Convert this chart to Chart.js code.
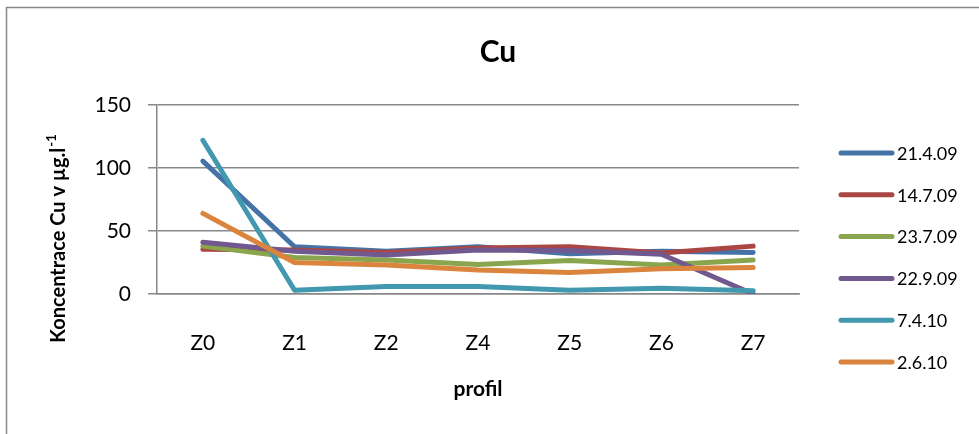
<!DOCTYPE html>
<html>
<head>
<meta charset="utf-8">
<script src="https://cdn.jsdelivr.net/npm/chart.js@4"></script>
<style>
  body { margin: 0; background: #fff; }
</style>
</head>
<body>
<canvas id="myChart" width="979" height="434"></canvas>
<script>
// profiles on the x axis
let profiles = ["Z0", "Z1", "Z2", "Z4", "Z5", "Z6", "Z7"];

// Cu values (µg/l) per sampling date
let cu210409 = [105.5, 37.5, 34, 37.5, 32, 34, 33];
let cu140709 = [35.5, 35, 33, 36.5, 37.5, 32.5, 38];
let cu230709 = [38, 29, 27, 23.5, 26.5, 23, 27];
let cu220909 = [41, 34, 31, 35, 34.5, 31.5, 0];
let cu070410 = [122, 3, 6, 6, 3, 4.5, 2.5];
let cu020610 = [64, 25, 23, 19, 17, 20, 21];

let dates = ["21.4.09", "14.7.09", "23.7.09", "22.9.09", "7.4.10", "2.6.10"];
let yTicks = [0, 50, 100, 150];

let seriesData = [cu210409, cu140709, cu230709, cu220909, cu070410, cu020610];
let colors = ["#4572A7", "#AA4643", "#89A54E", "#71588F", "#4198AF", "#DB843D"];

const gray = "#888888";
const font = "Lato, 'DejaVu Sans', sans-serif";

// build datasets, later series drawn on top like in the original
let datasets = seriesData.map((values, i) => {
  return {
    label: dates[i],
    data: values,
    borderColor: colors[i],
    backgroundColor: colors[i],
    borderWidth: 5,
    borderCapStyle: "round",
    borderJoinStyle: "round",
    pointRadius: 0,
    tension: 0,
    order: seriesData.length - 1 - i
  };
});

// outer frame of the chart
const framePlugin = {
  id: "frame",
  beforeDraw(chart) {
    let ctx = chart.ctx;
    ctx.save();
    ctx.fillStyle = "#fff";
    ctx.fillRect(0, 0, chart.width, chart.height);
    ctx.strokeStyle = gray;
    ctx.lineWidth = 1.5;
    ctx.strokeRect(6.5, 7.5, 1200, 1200);
    ctx.restore();
  }
};

// chart title and legend on the right side
const legendPlugin = {
  id: "sideLegend",
  afterDraw(chart) {
    let ctx = chart.ctx;
    ctx.save();
    ctx.fillStyle = "#000";
    ctx.font = "bold 30px " + font;
    ctx.textAlign = "center";
    ctx.textBaseline = "middle";
    ctx.fillText("Cu", 498, 52);

    chart.data.datasets.forEach((ds, i) => {
      let y = 153 + i * 41.8;
      ctx.strokeStyle = ds.borderColor;
      ctx.lineWidth = 5;
      ctx.lineCap = "round";
      ctx.beginPath();
      ctx.moveTo(841, y);
      ctx.lineTo(892, y);
      ctx.stroke();
      ctx.fillStyle = "#000";
      ctx.font = "18px " + font;
      ctx.textAlign = "left";
      ctx.textBaseline = "middle";
      ctx.fillText(ds.label, 897, y + 1);
    });
    ctx.restore();
  }
};

// rotated y axis title with superscript
const yTitlePlugin = {
  id: "yTitle",
  afterDraw(chart) {
    let ctx = chart.ctx;
    let main = "Koncentrace Cu v µg.l";
    let sup = "-1";
    ctx.save();
    ctx.translate(59, 239);
    ctx.rotate(-Math.PI / 2);
    ctx.fillStyle = "#000";
    ctx.textBaseline = "middle";
    ctx.textAlign = "left";
    ctx.font = "bold 20px " + font;
    let w1 = ctx.measureText(main).width;
    ctx.font = "bold 13px " + font;
    let w2 = ctx.measureText(sup).width;
    let start = -(w1 + w2) / 2;
    ctx.font = "bold 20px " + font;
    ctx.fillText(main, start, 0);
    ctx.font = "bold 13px " + font;
    ctx.fillText(sup, start + w1 + 1, -7);
    ctx.restore();
  }
};

let ctx = document.getElementById("myChart").getContext("2d");

let myChart = new Chart(ctx, {
  type: "line",
  data: {
    labels: profiles,
    datasets
  },
  options: {
    responsive: false,
    animation: false,
    layout: {
      padding: { left: 0, right: 180, top: 105, bottom: 0 }
    },
    plugins: {
      legend: { display: false },
      tooltip: { enabled: false },
      title: { display: false }
    },
    scales: {
      x: {
        offset: true,
        grid: { display: false },
        border: { display: true, color: gray, width: 1.5 },
        ticks: {
          color: "#000",
          font: { family: font, size: 21 },
          padding: 29,
          maxRotation: 0
        },
        title: {
          display: true,
          text: "profil",
          color: "#000",
          font: { family: font, size: 21, weight: "bold" },
          padding: { top: 0, bottom: 32 }
        },
        afterFit(scale) {
          scale.height = 140;
        }
      },
      y: {
        min: 0,
        max: 150,
        afterBuildTicks(scale) {
          scale.ticks = yTicks.map(v => ({ value: v }));
        },
        grid: {
          color: gray,
          lineWidth: 1.5,
          tickLength: 9
        },
        border: { display: true, color: gray, width: 1.5 },
        ticks: {
          color: "#000",
          font: { family: font, size: 21 },
          padding: 17
        },
        afterFit(scale) {
          scale.width = 157;
        }
      }
    }
  },
  plugins: [framePlugin, legendPlugin, yTitlePlugin]
});
</script>
</body>
</html>
